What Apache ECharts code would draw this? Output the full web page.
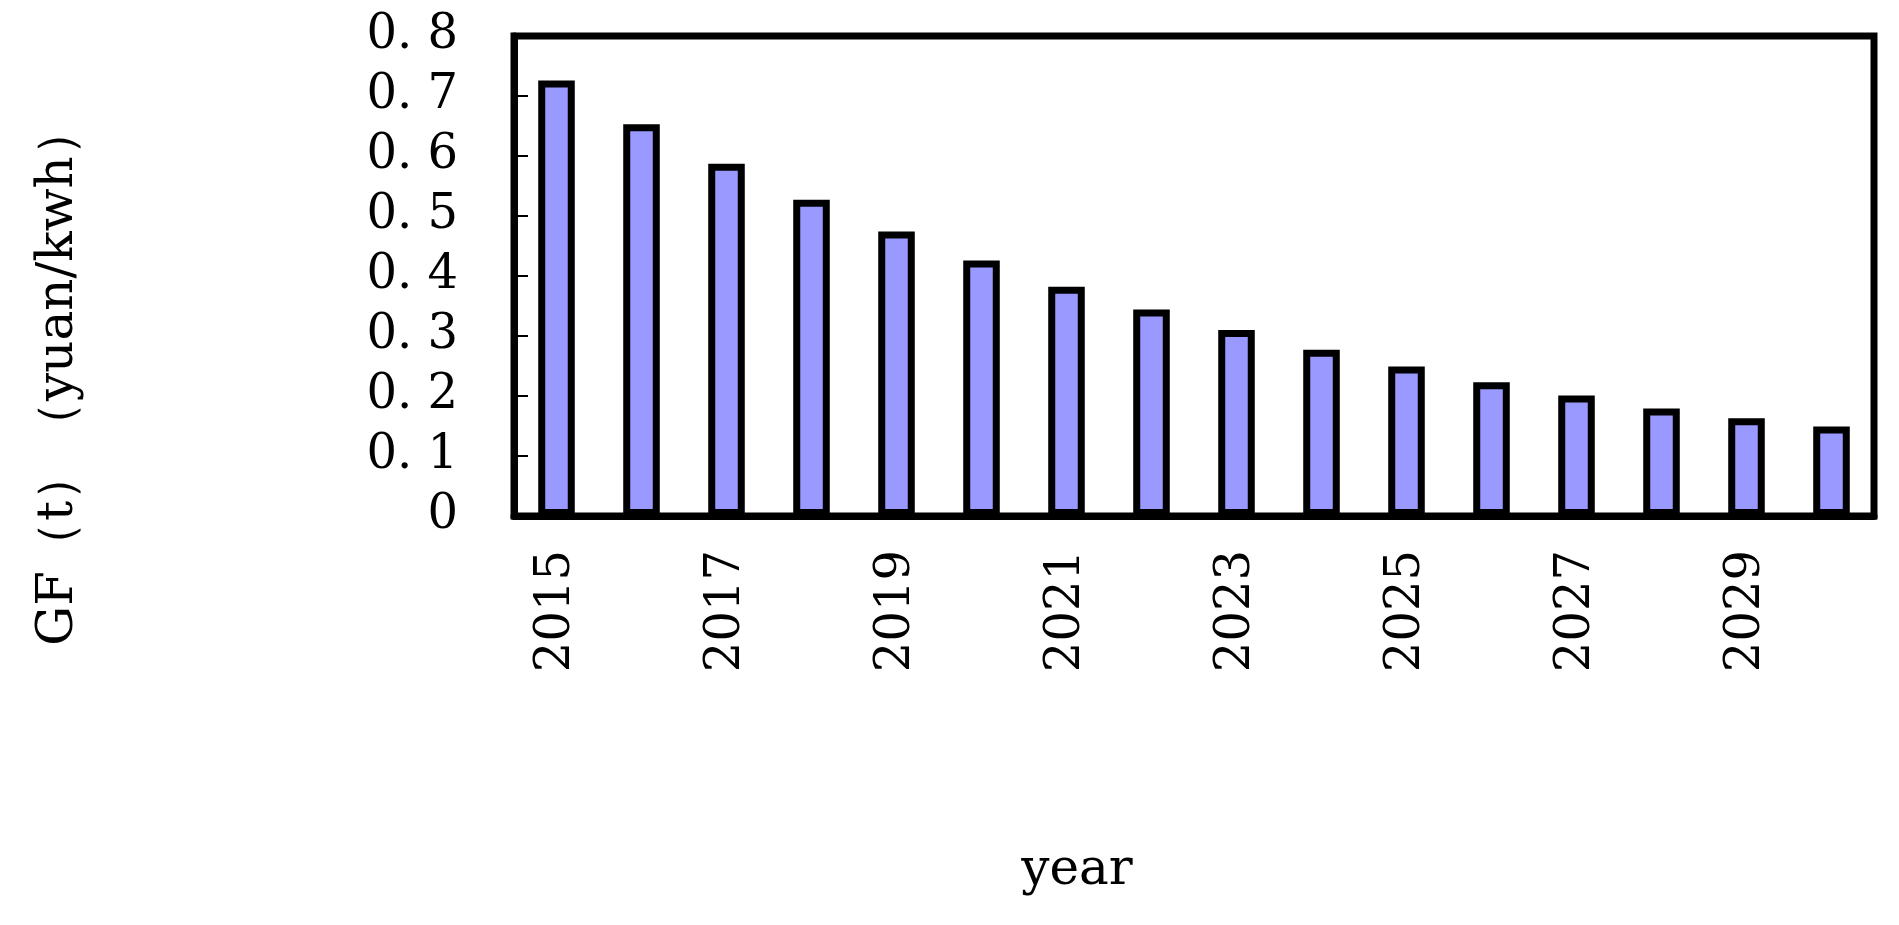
<!DOCTYPE html>
<html><head><meta charset="utf-8">
<script src="https://cdn.jsdelivr.net/npm/echarts@6/dist/echarts.min.js"></script>
<style>html,body{margin:0;padding:0;background:#fff}#c{width:1899px;height:925px}</style>
</head><body><div id="c"></div>
<script>
const categories = ['2015','2016','2017','2018','2019','2020','2021','2022','2023','2024','2025','2026','2027','2028','2029','2030'];
const values = [0.726,0.653,0.587,0.527,0.474,0.426,0.382,0.344,0.310,0.277,0.249,0.223,0.201,0.179,0.163,0.149];
const yTicks = [0,0.1,0.2,0.3,0.4,0.5,0.6,0.7,0.8];
const font = '"DejaVu Serif","Liberation Serif",serif';
const chart = echarts.init(document.getElementById('c'));
chart.setOption({
  animation:false,
  grid:{left:514,top:36,right:25,bottom:409,show:true,borderColor:'#000',borderWidth:7,backgroundColor:'transparent'},
  xAxis:{type:'category',data:categories,name:'year',nameLocation:'middle',nameGap:330,
    nameTextStyle:{fontFamily:font,fontSize:50,color:'#000',padding:[0,234,0,0]},
    axisLine:{lineStyle:{color:'#000',width:7}},
    axisTick:{inside:true,length:14,lineStyle:{color:'#000',width:2},interval:0},
    axisLabel:{rotate:90,interval:1,fontFamily:font,fontSize:48,color:'#000',margin:34}},
  yAxis:{type:'value',min:0,max:0.8,interval:0.1,
    name:'GF（t）（yuan/kwh）',nameLocation:'middle',nameGap:430,nameRotate:90,
    nameTextStyle:{fontFamily:font,fontSize:50,color:'#000',padding:[0,200,0,0]},
    splitLine:{show:false},
    axisLine:{show:true,lineStyle:{color:'#000',width:7}},
    axisTick:{show:true,inside:true,length:14,lineStyle:{color:'#000',width:2}},
    axisLabel:{fontFamily:font,fontSize:48,color:'#000',margin:56,
      formatter:v=>{const t=yTicks.find(x=>Math.abs(x-v)<1e-9);return t===0?'0':t.toFixed(1).replace('.','. ');}}},
  series:[{type:'bar',data:values,barWidth:'43%',
    itemStyle:{color:'#9999FF',borderColor:'#000',borderWidth:7}}]
});
</script></body></html>
